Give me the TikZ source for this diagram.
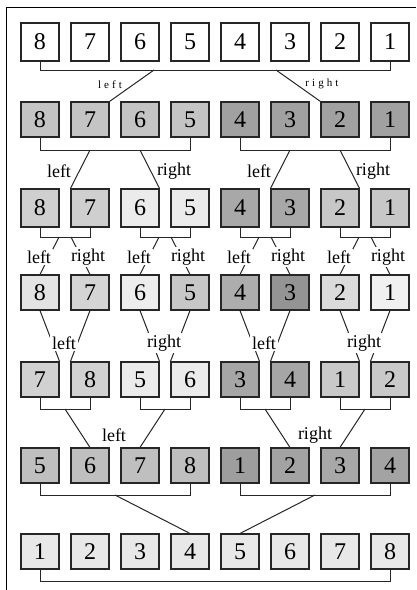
\documentclass[tikz,border=0pt]{standalone}
\usepackage{fontspec}
\setmainfont{Liberation Serif}
\newfontfamily\tinywide[LetterSpace=28]{Liberation Serif}
\begin{document}
\begin{tikzpicture}[x=1pt,y=-1pt,
  box/.style={draw=black!85, line width=1.1pt, minimum width=38pt, minimum height=35pt, inner sep=0pt, font=\fontsize{24}{26}\selectfont},
  conn/.style={draw=black!85, line width=1pt},
  lab/.style={font=\fontsize{18}{20}\selectfont, inner sep=1pt},
  labw/.style={lab, fill=white, inner sep=2pt},
  tinylab/.style={font=\tinywide\fontsize{11}{11}\selectfont, inner sep=0pt}]
\useasboundingbox (0,0) rectangle (416,590);
\draw[line width=0.8pt] (6.5,590) -- (6.5,7.5) -- (416,7.5);

% rows of boxes
\foreach \l [count=\i] in {8,7,6,5,4,3,2,1}
  \node[box, minimum height=38pt, fill=white] (r1c\i) at ({40+50*(\i-1)},42) {\l};
\foreach \l/\c [count=\i] in {8/23,7/23,6/23,5/23,4/37,3/37,2/37,1/37}
  \node[box, fill=black!\c] (r2c\i) at ({40+50*(\i-1)},119.5) {\l};
\foreach \l/\c [count=\i] in {8/19,7/19,6/8,5/8,4/34,3/34,2/22,1/22}
  \node[box, minimum height=38pt, fill=black!\c] (r3c\i) at ({40+50*(\i-1)},208) {\l};
\foreach \l/\c [count=\i] in {8/11,7/17,6/7,5/22,4/32,3/42,2/14,1/6}
  \node[box, fill=black!\c] (r4c\i) at ({40+50*(\i-1)},292.5) {\l};
\foreach \l/\c [count=\i] in {7/18,8/18,5/8,6/8,3/35,4/35,1/21,2/21}
  \node[box, fill=black!\c] (r5c\i) at ({40+50*(\i-1)},379.5) {\l};
\foreach \l/\c [count=\i] in {5/25,6/25,7/25,8/25,1/38,2/36,3/34,4/36}
  \node[box, fill=black!\c] (r6c\i) at ({40+50*(\i-1)},465.5) {\l};
\foreach \l [count=\i] in {1,2,3,4,5,6,7,8}
  \node[box, fill=black!9] (r7c\i) at ({40+50*(\i-1)},551.5) {\l};

% row 1 -> row 2
\draw[conn] (r1c1.south) -- ++(0,9) -| (r1c8.south);
\coordinate (j1a) at (154,70);
\coordinate (j1b) at (276,70);
\draw[conn] (j1a) -- (r2c2.north east);
\draw[conn] (j1b) -- (r2c7.north west);
\node[tinylab] (t1a) at (110,85) {left};
\node[tinylab] (t1b) at (322,84) {right};

% row 2 -> row 3
\draw[conn] (r2c1.south) -- ++(0,13) -| (r2c4.south);
\draw[conn] (r2c5.south) -- ++(0,13) -| (r2c8.south);
\coordinate (j2a) at (90,150);
\coordinate (j2b) at (140,150);
\coordinate (j2c) at (290,150);
\coordinate (j2d) at (340,150);
\draw[conn] (j2a) -- (r3c2.north west);
\draw[conn] (j2b) -- (r3c3.north east);
\draw[conn] (j2c) -- (r3c6.north west);
\draw[conn] (j2d) -- (r3c7.north east);
\node[lab] (t2a) at (59,171) {left};
\node[lab] (t2b) at (174,171) {right};
\node[lab] (t2c) at (259,171) {left};
\node[lab] (t2d) at (373,171) {right};

% row 3 -> row 4
\foreach \k in {0,1,2,3}{
  \pgfmathtruncatemacro{\a}{2*\k+1}
  \pgfmathtruncatemacro{\b}{2*\k+2}
  \draw[conn] (r3c\a.south) -- ++(0,10) -| (r3c\b.south);
  \coordinate (j3a\k) at ({59+100*\k},237);
  \coordinate (j3b\k) at ({71+100*\k},237);
  \draw[conn] (j3a\k) -- (r4c\a.north);
  \draw[conn] (j3b\k) -- (r4c\b.north);
  \node[labw] (t3a\k) at ({39+100*\k},257) {left};
  \node[labw] (t3b\k) at ({88+100*\k},257) {right};
}

% row 4 -> row 5
\foreach \k/\t in {0/left,1/right,2/left,3/right}{
  \pgfmathtruncatemacro{\a}{2*\k+1}
  \pgfmathtruncatemacro{\b}{2*\k+2}
  \draw[conn] (r4c\a.south) -- (r5c\a.north east);
  \draw[conn] (r4c\b.south) -- (r5c\b.north west);
  \node[labw] (t4\k) at ({64+100*\k},343) {\t};
}

% row 5 -> row 6
\foreach \k/\tg in {0/2,1/3,2/6,3/7}{
  \pgfmathtruncatemacro{\a}{2*\k+1}
  \pgfmathtruncatemacro{\b}{2*\k+2}
  \draw[conn] (r5c\a.south) -- ++(0,12) -| (r5c\b.south);
  \coordinate (j5\k) at ({65+100*\k},409);
  \draw[conn] (j5\k) -- (r6c\tg.north);
}
\node[lab] (t5a) at (114,435) {left};
\node[lab] (t5b) at (315,435) {right};

% row 6 -> row 7
\draw[conn] (r6c1.south) -- ++(0,12) -| (r6c4.south);
\draw[conn] (r6c5.south) -- ++(0,12) -| (r6c8.south);
\coordinate (j6a) at (115,495);
\coordinate (j6b) at (315,495);
\draw[conn] (j6a) -- (r7c4.north);
\draw[conn] (j6b) -- (r7c5.north);

% bottom bracket
\draw[conn] (r7c1.south) -- ++(0,12) -| (r7c8.south);
\end{tikzpicture}
\end{document}
